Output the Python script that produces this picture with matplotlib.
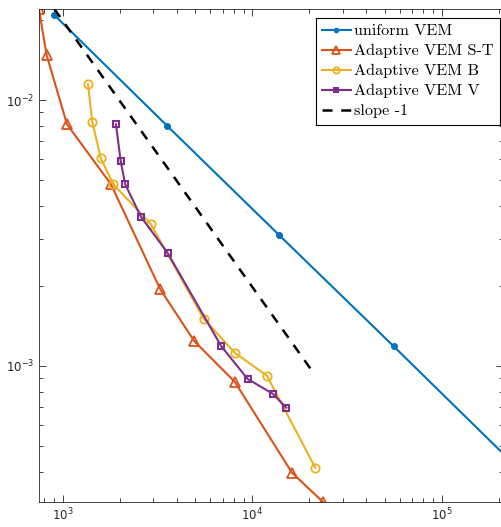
import numpy as np
import matplotlib
matplotlib.use("Agg")
import matplotlib.pyplot as plt
from matplotlib.font_manager import FontProperties

# data (degrees of freedom vs error)
uni_x = [903, 3551, 13847, 55800, 222000]
uni_y = [0.02087, 0.008006, 0.00311, 0.001186, 0.000452]

st_x = [750, 823, 1054, 1798, 3273, 4949, 8085, 16218, 23550]
st_y = [0.0219, 0.01476, 0.0081, 0.00482, 0.001942, 0.00124, 0.000873, 0.000397, 0.000309]

b_x = [1360, 1433, 1587, 1849, 2913, 5546, 8085, 11970, 21530]
b_y = [0.01146, 0.00829, 0.00605, 0.00483, 0.00342, 0.001507, 0.001122, 0.000919, 0.000414]

v_x = [1911, 2023, 2138, 2588, 3581, 6871, 9460, 12824, 15130]
v_y = [0.0081, 0.0059, 0.00482, 0.00364, 0.00266, 0.001186, 0.000894, 0.000787, 0.000697]

slope_x = [903, 20840]
slope_y = [0.0220, 0.000952]

labels = ["uniform VEM", "Adaptive VEM S-T", "Adaptive VEM B", "Adaptive VEM V", "slope -1"]

fig = plt.figure(figsize=(5.01, 5.27), dpi=100)
ax = fig.add_axes([39/501, 1-502/527, 464/501, 493/527])

ax.loglog(uni_x, uni_y, '-o', color='#0072BD', lw=1.5, ms=4, label=labels[0])
ax.loglog(st_x, st_y, '-^', color='#D95319', lw=1.5, ms=7, mfc='none', mew=1.3, label=labels[1])
ax.loglog(b_x, b_y, '-o', color='#EDB120', lw=1.5, ms=6, mfc='none', mew=1.3, label=labels[2])
ax.loglog(v_x, v_y, '-s', color='#7E2F8E', lw=1.5, ms=4, mfc='none', mew=1.5, label=labels[3])
ax.loglog(slope_x, slope_y, '--', color='k', lw=1.8, dashes=(4, 3.5), label=labels[4])

ax.set_xlim(750, 10**(3 + (503-62.7)/189.5))
ax.set_ylim(10**(-3 - 136/266), 10**(-2 + 91/266))

grey = '#262626'
for s in ax.spines.values():
    s.set_color(grey)
    s.set_linewidth(0.6)
ax.tick_params(which='both', direction='in', top=True, right=True, colors=grey, labelsize=8.5)
ax.tick_params(which='major', length=5, width=0.6)
ax.tick_params(which='minor', length=3, width=0.6)

leg = ax.legend(prop=FontProperties(family='cmr10', size=11.7), loc='upper right',
                bbox_to_anchor=(461/464, 484.3/493), borderaxespad=0, fancybox=False,
                framealpha=1, edgecolor='k', handlelength=1.8, handletextpad=0.2,
                labelspacing=0.35, borderpad=0.38, markerscale=0.75)
leg.get_frame().set_linewidth(0.8)

fig.savefig("out.png", dpi=100)
